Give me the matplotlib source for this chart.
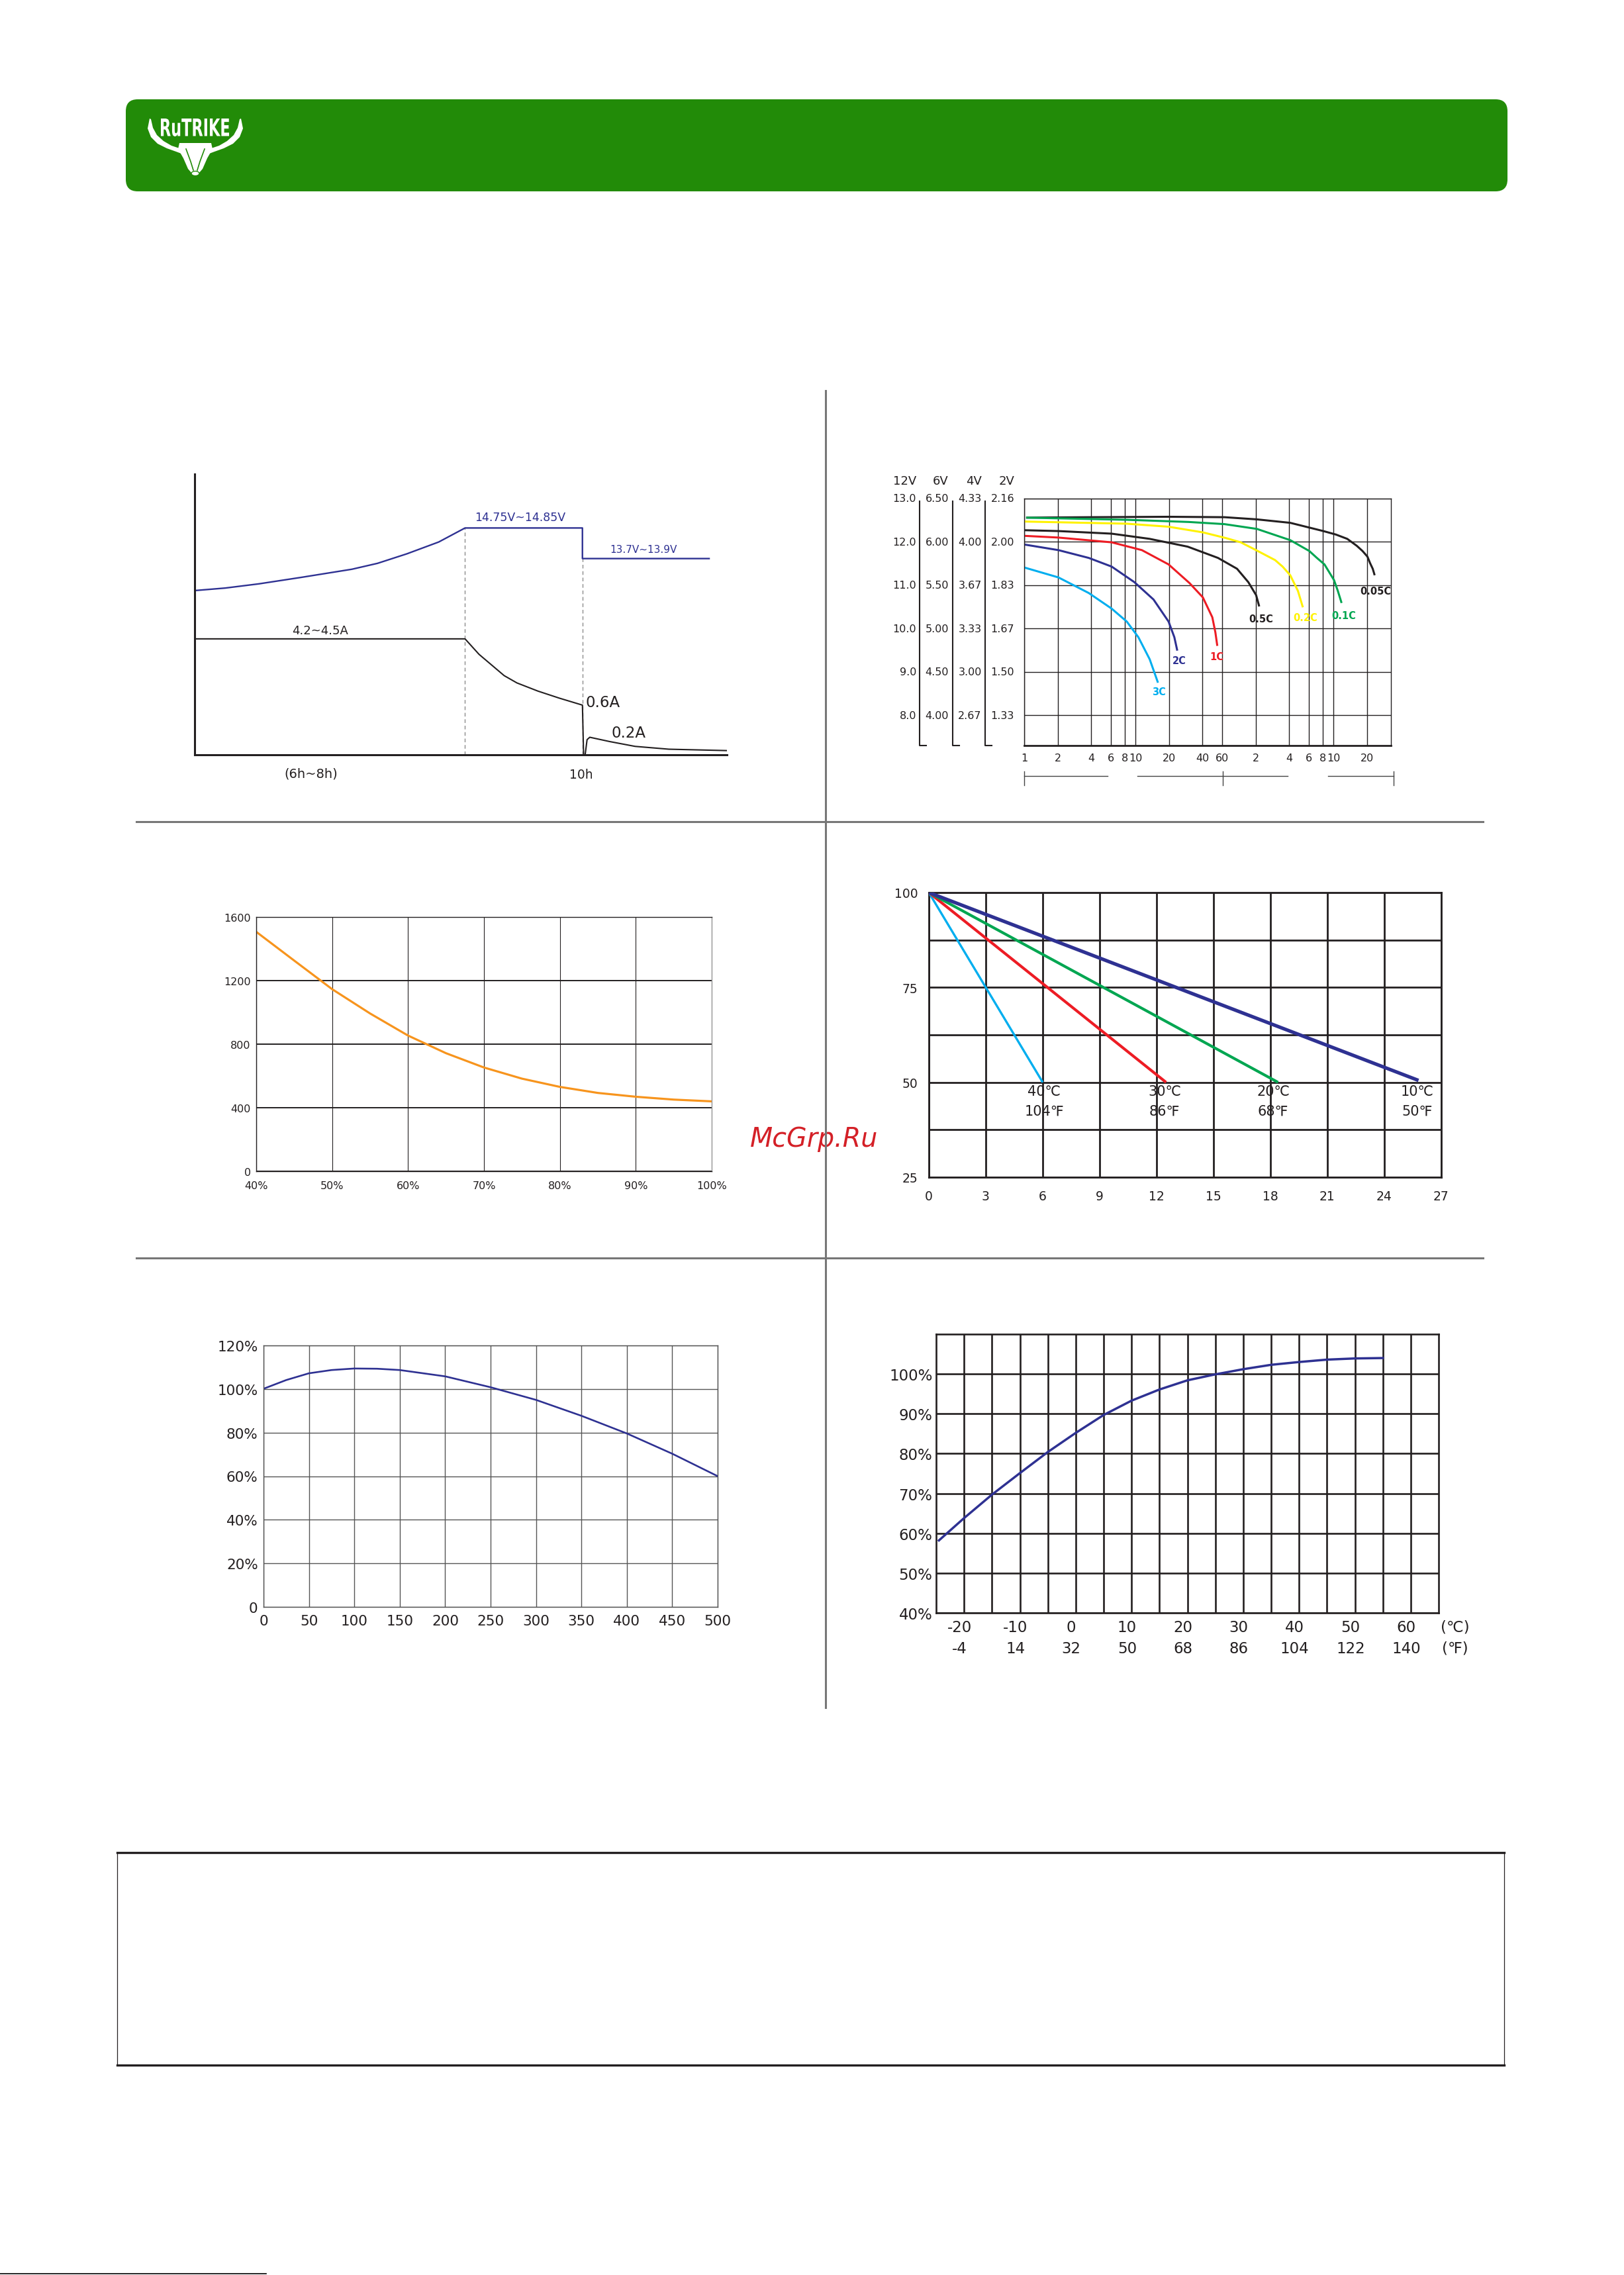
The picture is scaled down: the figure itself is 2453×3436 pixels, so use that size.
import matplotlib
matplotlib.use("Agg")
import matplotlib.pyplot as plt
from matplotlib.patches import FancyBboxPatch, PathPatch, Polygon, Ellipse
from matplotlib.textpath import TextPath
from matplotlib.font_manager import FontProperties
from matplotlib.transforms import Affine2D
from matplotlib.ticker import NullLocator

plt.rcParams['font.family'] = ['DejaVu Sans']

W, H = 2453, 3437
DARK = '#231f20'
NAVY = '#2e3192'
GREEN = '#00a651'
RED = '#ed1c24'
LBLUE = '#00aeef'
YELLOW = '#fff200'
ORANGE = '#f7941d'

# --- charging curve (schematic: hours, relative level 0..1) ---
volt_t = [0, 0.79, 1.66, 2.75, 4.06, 4.72, 5.48, 6.30, 6.98, 10.01, 10.01, 13.28]
volt_lvl = [0.585, 0.594, 0.609, 0.632, 0.661, 0.682, 0.716, 0.758, 0.808, 0.808, 0.699, 0.699]
cur_t = [0, 6.98, 7.34, 7.99, 8.32, 8.86, 9.41, 10.01, 10.04, 10.08, 10.13, 10.2, 10.72, 11.37, 12.24, 13.74]
cur_lvl = [0.413, 0.413, 0.358, 0.282, 0.256, 0.227, 0.202, 0.177, 0.0, 0.0, 0.054, 0.0625, 0.047, 0.030, 0.020, 0.015]
phase_t = [6.98, 10.01]
phase_top = [0.808, 0.699]

# --- discharge curves (minutes, volts on 12V scale) ---
dis_labels = ['0.05C', '0.1C', '0.2C', '0.5C', '1C', '2C', '3C']
dis_colors = [DARK, GREEN, YELLOW, DARK, RED, NAVY, LBLUE]
dis_t = [
    [1.04, 3.8, 20, 62.9, 122.7, 245, 485, 629, 796, 969, 1091, 1208, 1276, 1348, 1403],
    [1.04, 8.35, 30, 62.9, 122.7, 245, 363, 425, 497, 605, 655, 708],
    [1, 8.35, 19.8, 40.2, 64.4, 88, 120.8, 179, 209, 245, 265, 287, 318],
    [1, 2.03, 6.1, 13.4, 29.4, 55, 81.5, 103, 121, 129],
    [1, 2.03, 6.1, 11.4, 19.8, 30.5, 40.2, 48.9, 52.1, 54.2],
    [1, 2.03, 3.8, 6.1, 9.77, 14.5, 19.8, 22.3, 23.7],
    [1, 2.03, 3.8, 6.1, 8.35, 10.6, 13.4, 15.9],
]
dis_v = [
    [12.56, 12.57, 12.58, 12.57, 12.52, 12.44, 12.25, 12.17, 12.07, 11.91, 11.79, 11.66, 11.51, 11.38, 11.23],
    [12.56, 12.51, 12.46, 12.41, 12.30, 12.04, 11.79, 11.63, 11.48, 11.12, 10.87, 10.59],
    [12.47, 12.42, 12.35, 12.22, 12.09, 11.99, 11.81, 11.58, 11.43, 11.23, 11.05, 10.87, 10.49],
    [12.27, 12.25, 12.19, 12.07, 11.89, 11.63, 11.38, 11.07, 10.77, 10.51],
    [12.14, 12.10, 11.99, 11.81, 11.48, 11.05, 10.72, 10.26, 9.91, 9.60],
    [11.94, 11.81, 11.63, 11.43, 11.07, 10.67, 10.16, 9.80, 9.49],
    [11.41, 11.18, 10.82, 10.46, 10.16, 9.80, 9.29, 8.75],
]
dis_lab_t = [1435, 745, 336, 134, 53.7, 24.6, 16.3]
dis_lab_v = [10.87, 10.31, 10.26, 10.22, 9.35, 9.27, 8.55]
dis_ticks = [1, 2, 4, 6, 8, 10, 20, 40, 60, 120, 240, 360, 480, 600, 1200]
dis_ticklabels = ['1', '2', '4', '6', '8', '10', '20', '40', '60', '2', '4', '6', '8', '10', '20']
volt_grid = [8.0, 9.0, 10.0, 11.0, 12.0, 13.0]
scale_heads = ['12V', '6V', '4V', '2V']
scale_vals = [
    ['13.0', '12.0', '11.0', '10.0', '9.0', '8.0'],
    ['6.50', '6.00', '5.50', '5.00', '4.50', '4.00'],
    ['4.33', '4.00', '3.67', '3.33', '3.00', '2.67'],
    ['2.16', '2.00', '1.83', '1.67', '1.50', '1.33'],
]
bracket_segs = [(1, 5.6), (10.4, 60.7), (60.7, 232), (538, 2077)]
bracket_ticks = [1, 60.7, 2077]

# --- cycle life vs depth of discharge ---
dod = [40, 45, 50, 55, 60, 65, 70, 75, 80, 85, 90, 95, 100]
dod_cycles = [1507, 1326, 1146, 993, 854, 743, 653, 583, 531, 493, 469, 451, 440]

# --- self discharge (months, % capacity) ---
sd_temps_c = ['40℃', '30℃', '20℃', '10℃']
sd_temps_f = ['104℉', '86℉', '68℉', '50℉']
sd_colors = [LBLUE, RED, GREEN, NAVY]
sd_widths = [2.4, 3.0, 3.0, 3.8]
sd_end_month = [6.0, 12.5, 18.4, 25.8]
sd_end_cap = [50, 50, 50, 50.5]
sd_label_x = [6.07, 12.42, 18.14, 25.74]

# --- capacity vs cycles ---
life_cycles = [0, 25, 50, 75, 100, 125, 150, 200, 250, 300, 350, 400, 450, 500]
life_cap = [100.1, 104.1, 107.2, 108.7, 109.4, 109.3, 108.7, 105.8, 100.8, 95.0, 87.7, 79.6, 70.3, 60.0]

# --- capacity vs temperature ---
temp_c = [-24.5, -20, -15, -10, -5, 0, 5, 10, 15, 20, 25, 30, 35, 40, 45, 50, 55]
temp_cap = [58.2, 63.8, 69.7, 75.1, 80.4, 85.2, 89.7, 93.3, 96.1, 98.4, 99.9, 101.2, 102.3, 103.0, 103.6, 103.9, 104.0]
temp_ticks_c = [-20, -10, 0, 10, 20, 30, 40, 50, 60]
temp_ticks_f = [-4, 14, 32, 50, 68, 86, 104, 122, 140]


fig = plt.figure(figsize=(W / 100, H / 100), dpi=100)


def add_px_axes(x0, y0, x1, y1):
    ax = fig.add_axes([x0 / W, 1 - y1 / H, (x1 - x0) / W, (y1 - y0) / H])
    ax.set_facecolor('none')
    return ax


# background layer: header, separators, bottom box
bg = fig.add_axes([0, 0, 1, 1])
bg.set_xlim(0, W)
bg.set_ylim(H, 0)
bg.axis('off')

bg.add_patch(FancyBboxPatch((190, 151), 2087, 139, boxstyle='round,pad=0,rounding_size=18',
                            fc='#228b08', ec='none'))
# logo
tp = TextPath((0, 0), 'RuTRIKE', size=1, prop=FontProperties(family='DejaVu Sans', weight='bold'))
ext = tp.get_extents()
tr = Affine2D().translate(-ext.x0, -ext.y0).scale(103 / ext.width, -27 / ext.height).translate(243, 207)
bg.add_patch(PathPatch(tr.transform_path(tp), fc='white', ec='none'))
cx = 295
horn = [(226, 180), (223, 195), (228, 208), (238, 218), (252, 225), (266, 230), (274, 233),
        (274, 226), (259, 221), (247, 214), (237, 205), (231, 194), (228, 181)]
bg.add_patch(Polygon(horn, closed=True, fc='white', ec='none'))
bg.add_patch(Polygon([(2 * cx - x, y) for x, y in horn], closed=True, fc='white', ec='none'))
head = [(271, 217), (319, 217), (321, 226), (313, 240), (306, 256), (300, 263), (295, 266),
        (290, 263), (284, 256), (277, 240), (269, 226)]
bg.add_patch(Polygon(head, closed=True, fc='white', ec='none'))
bg.plot([281, 288, 292], [226, 245, 258], color='#228b08', lw=1.2)
bg.plot([309, 302, 298], [226, 245, 258], color='#228b08', lw=1.2)
bg.add_patch(Ellipse((295, 263), 12, 7, fc='white', ec='#228b08', lw=1))

# watermark
bg.text(1133, 1732, 'McGrp.Ru', fontsize=28.5, style='italic', color='#d42027',
        ha='left', va='baseline', zorder=1)

# separators
SEP = '#777777'
bg.plot([1247, 1247], [591, 2580], color=SEP, lw=2.2, zorder=3)
bg.plot([206, 2240], [1242, 1242], color=SEP, lw=2.2, zorder=3)
bg.plot([206, 2240], [1901, 1901], color=SEP, lw=2.2, zorder=3)

# bottom box
bg.plot([177, 2272], [2799, 2799], color=DARK, lw=2.4)
bg.plot([177, 2272], [3120, 3120], color=DARK, lw=2.4)
bg.plot([177, 177], [2799, 3120], color=DARK, lw=0.9)
bg.plot([2272, 2272], [2799, 3120], color=DARK, lw=0.9)
bg.plot([0, 402], [3435, 3435], color='black', lw=1.2)

# ---------------- panel 1: charging ----------------
ax1 = add_px_axes(294, 717, 1098, 1141)
ax1.set_xlim(0, 13.74)
ax1.set_ylim(0, 1)
ax1.vlines(phase_t, 0, phase_top, colors='#8c8c8c', linestyles=(0, (4, 3)), lw=1)
ax1.plot(volt_t, volt_lvl, color=NAVY, lw=1.7, solid_joinstyle='round')
ax1.plot(cur_t, cur_lvl, color=DARK, lw=1.5, solid_joinstyle='round')
for s in ['top', 'right']:
    ax1.spines[s].set_visible(False)
for s in ['left', 'bottom']:
    ax1.spines[s].set_linewidth(2.2)
    ax1.spines[s].set_color(DARK)
ax1.set_xticks([])
ax1.set_yticks([])
ax1.text(8.41, 0.847, '14.75V~14.85V', color=NAVY, fontsize=12.5, ha='center', va='center')
ax1.text(11.59, 0.733, '13.7V~13.9V', color=NAVY, fontsize=11, ha='center', va='center')
ax1.text(3.23, 0.443, '4.2~4.5A', color=DARK, fontsize=13, ha='center', va='center')
ax1.text(10.09, 0.187, '0.6A', color=DARK, fontsize=16.5, ha='left', va='center')
ax1.text(11.2, 0.080, '0.2A', color=DARK, fontsize=16.5, ha='center', va='center')
ax1.text(3.0, -0.065, '(6h~8h)', color=DARK, fontsize=14, ha='center', va='center', clip_on=False)
ax1.text(9.98, -0.069, '10h', color=DARK, fontsize=13.5, ha='center', va='center', clip_on=False)

# ---------------- panel 2: discharge ----------------
ax2 = add_px_axes(1547, 754, 2101, 1127)
ax2.set_xscale('log')
ax2.set_xlim(1, 1965)
ax2.set_ylim(7.3, 13.0)
ax2.set_xticks(dis_ticks)
ax2.set_xticklabels(dis_ticklabels)
ax2.xaxis.set_minor_locator(NullLocator())
ax2.set_yticks(volt_grid)
ax2.set_yticklabels([])
ax2.grid(True, color=DARK, lw=1.0)
ax2.tick_params(length=0, labelsize=11.5, colors=DARK, pad=8)
for s in ax2.spines.values():
    s.set_color(DARK)
    s.set_linewidth(1.0)
ax2.spines['bottom'].set_linewidth(2.0)
for t, v, c in zip(dis_t, dis_v, dis_colors):
    ax2.plot(t, v, color=c, lw=2.2, solid_capstyle='butt', solid_joinstyle='round')
for lab, x, y, c in zip(dis_labels, dis_lab_t, dis_lab_v, dis_colors):
    ax2.text(x, y, lab, color=c, fontsize=10.5, fontweight='bold', ha='center', va='center', clip_on=False)
ytr = ax2.get_yaxis_transform()
col_right = [-0.294, -0.206, -0.116, -0.027]
col_head = [-0.325, -0.229, -0.137, -0.047]
col_line = [-0.285, -0.195, -0.106]
for i in range(4):
    ax2.text(col_head[i], 1.072, scale_heads[i], transform=ax2.transAxes, fontsize=13,
             color=DARK, ha='center', va='center')
    for lab, v in zip(scale_vals[i], volt_grid[::-1]):
        ax2.text(col_right[i], v, lab, transform=ytr, fontsize=11.5, color=DARK,
                 ha='right', va='center')
for xl in col_line:
    ax2.plot([xl, xl, xl + 0.018], [0.989, 0, 0], transform=ax2.transAxes, color=DARK,
             lw=1.5, clip_on=False)
xtr = ax2.get_xaxis_transform()
for a, b in bracket_segs:
    ax2.plot([a, b], [-0.123, -0.123], transform=xtr, color='#444444', lw=1.0, clip_on=False)
for xt in bracket_ticks:
    ax2.plot([xt, xt], [-0.105, -0.161], transform=xtr, color='#444444', lw=1.0, clip_on=False)

# ---------------- panel 3: cycles vs DOD ----------------
ax3 = add_px_axes(387, 1386, 1075, 1770)
ax3.set_xlim(40, 100)
ax3.set_ylim(0, 1600)
ax3.set_xticks(range(40, 101, 10))
ax3.set_xticklabels([f'{v}%' for v in range(40, 101, 10)])
ax3.set_yticks(range(0, 1601, 400))
ax3.grid(True, axis='x', color=DARK, lw=0.8)
ax3.grid(True, axis='y', color=DARK, lw=1.4)
ax3.tick_params(length=0, labelsize=11.5, colors=DARK)
ax3.tick_params(axis='x', pad=10)
ax3.tick_params(axis='y', pad=6)
for s in ax3.spines.values():
    s.set_color(DARK)
    s.set_linewidth(1.0)
ax3.spines['right'].set_color('#999999')
ax3.plot(dod, dod_cycles, color=ORANGE, lw=2.3, solid_joinstyle='round')

# ---------------- panel 4: self discharge ----------------
ax4 = add_px_axes(1403, 1349, 2177, 1779)
ax4.set_xlim(0, 27)
ax4.set_ylim(25, 100)
ax4.set_xticks(range(0, 28, 3))
ax4.set_yticks([25, 50, 75, 100])
ax4.set_yticks([37.5, 62.5, 87.5], minor=True)
ax4.grid(True, which='both', color=DARK, lw=2.0)
ax4.tick_params(which='both', length=0, labelsize=13.5, colors=DARK)
ax4.tick_params(axis='x', pad=14)
ax4.tick_params(axis='y', pad=12)
for s in ax4.spines.values():
    s.set_color(DARK)
    s.set_linewidth(2.0)
for m, c, col, lw in zip(sd_end_month, sd_end_cap, sd_colors, sd_widths):
    ax4.plot([0, m], [100, c], color=col, lw=lw, solid_capstyle='butt', zorder=3)
for x, tc, tf in zip(sd_label_x, sd_temps_c, sd_temps_f):
    ax4.text(x, 47.6, tc, fontsize=15, color=DARK, ha='center', va='center', zorder=4)
    ax4.text(x, 42.5, tf, fontsize=15, color=DARK, ha='center', va='center', zorder=4)

# ---------------- panel 5: capacity vs cycles ----------------
ax5 = add_px_axes(398, 2033, 1084, 2428)
ax5.set_xlim(0, 500)
ax5.set_ylim(0, 120)
ax5.set_xticks(range(0, 501, 50))
ax5.set_yticks(range(0, 121, 20))
ax5.set_yticklabels(['0'] + [f'{v}%' for v in range(20, 121, 20)])
ax5.grid(True, color='#555555', lw=1.0)
ax5.tick_params(length=0, labelsize=15.5, colors=DARK)
ax5.tick_params(axis='x', pad=8)
ax5.tick_params(axis='y', pad=6)
for s in ax5.spines.values():
    s.set_color('#555555')
    s.set_linewidth(1.0)
ax5.plot(life_cycles, life_cap, color=NAVY, lw=1.9, solid_joinstyle='round')

# ---------------- panel 6: capacity vs temperature ----------------
ax6 = add_px_axes(1414, 2016, 2173, 2437)
ax6.set_xlim(-25, 65)
ax6.set_ylim(40, 110)
ax6.set_xticks(range(-20, 61, 5))
ax6.set_xticklabels([])
ax6.set_yticks(range(40, 101, 10))
ax6.set_yticklabels([f'{v}%' for v in range(40, 101, 10)])
ax6.grid(True, color=DARK, lw=1.9)
ax6.tick_params(length=0, labelsize=16.5, colors=DARK, pad=4)
for s in ax6.spines.values():
    s.set_color(DARK)
    s.set_linewidth(1.9)
ax6.plot(temp_c, temp_cap, color=NAVY, lw=2.5, solid_joinstyle='round')
xtr6 = ax6.get_xaxis_transform()
for c, f in zip(temp_ticks_c, temp_ticks_f):
    ax6.text(c - 0.8, -0.050, f'{c}', transform=xtr6, fontsize=16.5, color=DARK,
             ha='center', va='center', clip_on=False)
    ax6.text(c - 0.8, -0.126, f'{f}', transform=xtr6, fontsize=16.5, color=DARK,
             ha='center', va='center', clip_on=False)
ax6.text(68, -0.050, '(℃)', transform=xtr6, fontsize=16.5, color=DARK, ha='center', va='center', clip_on=False)
ax6.text(68, -0.126, '(℉)', transform=xtr6, fontsize=16.5, color=DARK, ha='center', va='center', clip_on=False)

fig.savefig('out.png', dpi=100, facecolor='white')
